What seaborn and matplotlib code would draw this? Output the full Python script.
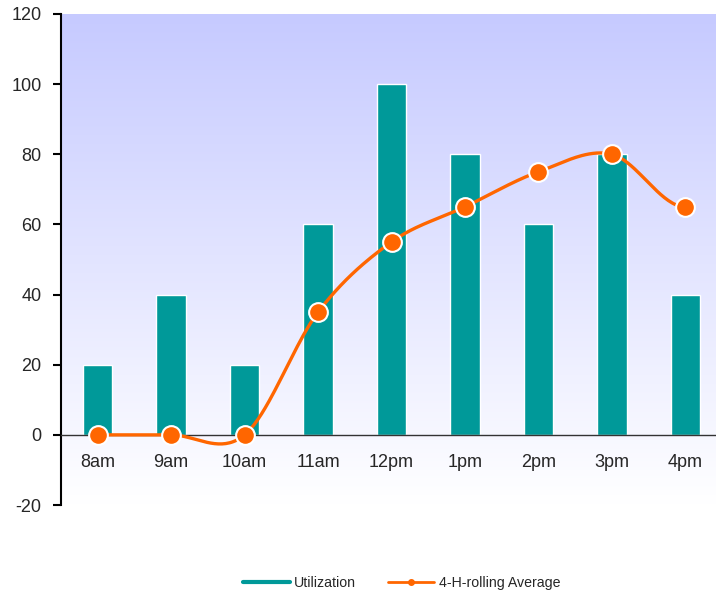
import numpy as np
import pandas as pd
import matplotlib
matplotlib.use("Agg")
import matplotlib.pyplot as plt
import seaborn as sns
from matplotlib.lines import Line2D
from matplotlib.colors import LinearSegmentedColormap

categories = ["8am", "9am", "10am", "11am", "12pm", "1pm", "2pm", "3pm", "4pm"]
utilization = [20, 40, 20, 60, 100, 80, 60, 80, 40]
rolling_avg = [0, 0, 0, 35, 55, 65, 75, 80, 65]

sns.set_style("white")
plt.rcParams["font.family"] = ["Liberation Sans", "DejaVu Sans"]
plt.rcParams["axes.unicode_minus"] = False

fig = plt.figure(figsize=(7.16, 5.94), dpi=100)
ax = fig.add_axes([61 / 716, 1 - 505 / 594, (722 - 61) / 716, (505 - 14) / 594])

# background gradient
cmap = LinearSegmentedColormap.from_list("bg", ["#c6caff", "#ffffff"])
grad = np.linspace(0, 1, 256).reshape(-1, 1)
ax.imshow(grad, cmap=cmap, aspect="auto", extent=[-0.5, 8.5, -20, 120],
          origin="upper", zorder=0)

df = pd.DataFrame({"cat": categories, "util": utilization, "avg": rolling_avg})
sns.barplot(data=df, x="cat", y="util", color="#009999", width=0.4,
            edgecolor="white", linewidth=1, saturation=1, ax=ax, zorder=2)

# Catmull-Rom smoothing of the average line
x = np.arange(len(categories), dtype=float)
y = np.array(rolling_avg, dtype=float)
m = np.zeros_like(y)
m[1:-1] = (y[2:] - y[:-2]) / 2.0
sx, sy = [], []
for i in range(len(x) - 1):
    t = np.linspace(0, 1, 40)
    h00 = 2 * t**3 - 3 * t**2 + 1
    h10 = t**3 - 2 * t**2 + t
    h01 = -2 * t**3 + 3 * t**2
    h11 = t**3 - t**2
    sx.extend(x[i] + t)
    sy.extend(h00 * y[i] + h10 * m[i] + h01 * y[i + 1] + h11 * m[i + 1])
sns.lineplot(x=sx, y=sy, color="#ff6600", linewidth=2.4, ax=ax, zorder=3,
             sort=False)
ax.plot(x, y, linestyle="none", marker="o", markersize=13.5,
        markerfacecolor="#ff6600", markeredgecolor="white",
        markeredgewidth=1.5, zorder=4, clip_on=False)

ax.set_xlim(-0.5, 8.5)
ax.set_ylim(-20, 120)
ax.set_yticks(range(-20, 121, 20))
ax.set_xlabel("")
ax.set_ylabel("")

for s in ["top", "right"]:
    ax.spines[s].set_visible(False)
ax.spines["left"].set_color("black")
ax.spines["left"].set_linewidth(1.5)
ax.spines["bottom"].set_position(("data", 0))
ax.spines["bottom"].set_color("#333333")
ax.spines["bottom"].set_linewidth(1)
ax.spines["bottom"].set_zorder(2.5)

ax.set_xticks(x)
ax.set_xticklabels(categories)
ax.set_xticks(np.arange(0.5, 8.5, 1), minor=True)
ax.tick_params(axis="x", which="major", length=0, pad=14, labelsize=13)
ax.tick_params(axis="x", which="minor", length=6, width=1, color="#333333",
               direction="out")
ax.tick_params(axis="y", length=6, width=1.5, color="black", direction="out",
               labelsize=13, left=True, pad=8)

handles = [
    Line2D([0], [0], color="#009999", linewidth=3),
    Line2D([0], [0], color="#ff6600", linewidth=2, marker="o",
           markersize=4),
]
fig.legend(handles, ["Utilization", "4-H-rolling Average"],
           loc="center", bbox_to_anchor=(0.561, 0.018), ncol=2, frameon=False,
           fontsize=10.2, handlelength=3.3, columnspacing=2.2,
           handletextpad=0.3)

fig.savefig("out.png", dpi=100)
